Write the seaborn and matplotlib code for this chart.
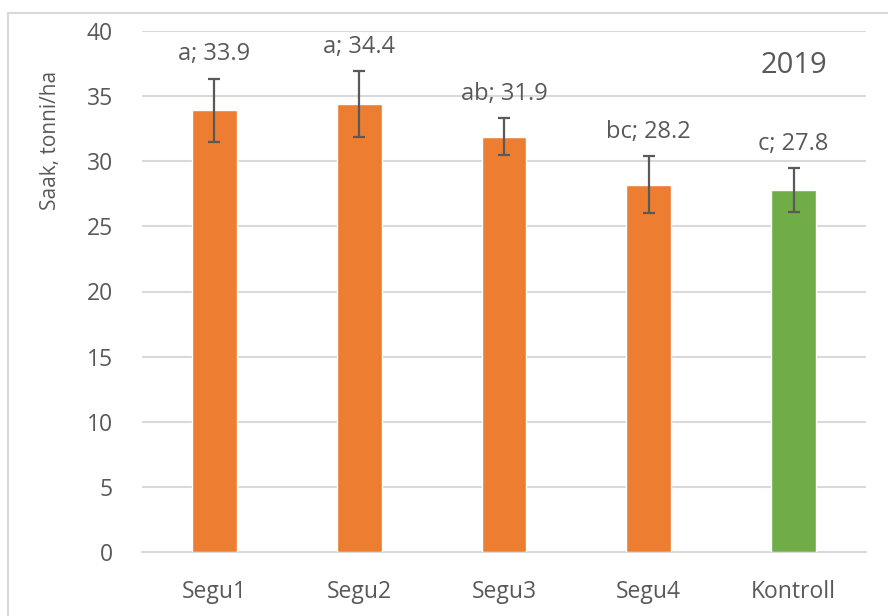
import matplotlib
matplotlib.use("Agg")
import matplotlib.pyplot as plt
from matplotlib.lines import Line2D
import numpy as np
import pandas as pd
import seaborn as sns

# data
categories = ["Segu1", "Segu2", "Segu3", "Segu4", "Kontroll"]
yields = [33.9, 34.4, 31.9, 28.2, 27.8]
errors = [2.45, 2.5, 1.4, 2.2, 1.7]
letters = ["a", "a", "ab", "bc", "c"]
colors = ["#ED7D31", "#ED7D31", "#ED7D31", "#ED7D31", "#70AD47"]
yticks = [0, 5, 10, 15, 20, 25, 30, 35, 40]

df = pd.DataFrame({"group": categories, "value": yields})

sns.set_style("white")
plt.rcParams["font.family"] = ["Open Sans", "DejaVu Sans"]
text_col = "#595959"

fig = plt.figure(figsize=(8.88, 6.16), dpi=100)
ax = fig.add_axes([142 / 888, 1 - 552 / 616, 724 / 888, 521 / 616])

sns.barplot(data=df, x="group", y="value", hue="group", palette=colors,
            saturation=1, width=0.31, legend=False, ax=ax, zorder=3)

ax.errorbar(np.arange(len(categories)), yields, yerr=errors, fmt="none",
            ecolor="#595959", elinewidth=1.6, capsize=4.5, capthick=1.6, zorder=4)

# labels above error bars
for i, (v, e, l) in enumerate(zip(yields, errors, letters)):
    ax.annotate(f"{l}; {v}", (i, v + e), xytext=(0, 13), textcoords="offset points",
                ha="center", va="baseline", fontsize=17, color=text_col)

ax.text(4, 36.8, "2019", ha="center", va="baseline", fontsize=21, color=text_col)

ax.set_ylim(0, 40)
ax.set_xlim(-0.5, 4.5)
ax.set_yticks(yticks)
ax.yaxis.grid(True, color="#D9D9D9", linewidth=1.5, zorder=0)
ax.set_axisbelow(True)
for s in ["top", "right", "left"]:
    ax.spines[s].set_visible(False)
ax.spines["bottom"].set_color("#D9D9D9")
ax.spines["bottom"].set_linewidth(1.5)
ax.tick_params(axis="both", length=0, labelsize=16.5, labelcolor=text_col)
ax.tick_params(axis="x", pad=20)
ax.tick_params(axis="y", pad=21)
ax.set_xlabel("")
ax.set_ylabel("Saak, tonni/ha", fontsize=15, color=text_col)
ax.yaxis.set_label_coords(-0.112, 0.79)

# chart border (top and left visible)
fig.add_artist(Line2D([8 / 888, 1], [1 - 13 / 616] * 2, color="#D9D9D9", lw=1.5))
fig.add_artist(Line2D([8 / 888] * 2, [0, 1 - 13 / 616], color="#D9D9D9", lw=1.5))

fig.savefig("out.png", dpi=100)
